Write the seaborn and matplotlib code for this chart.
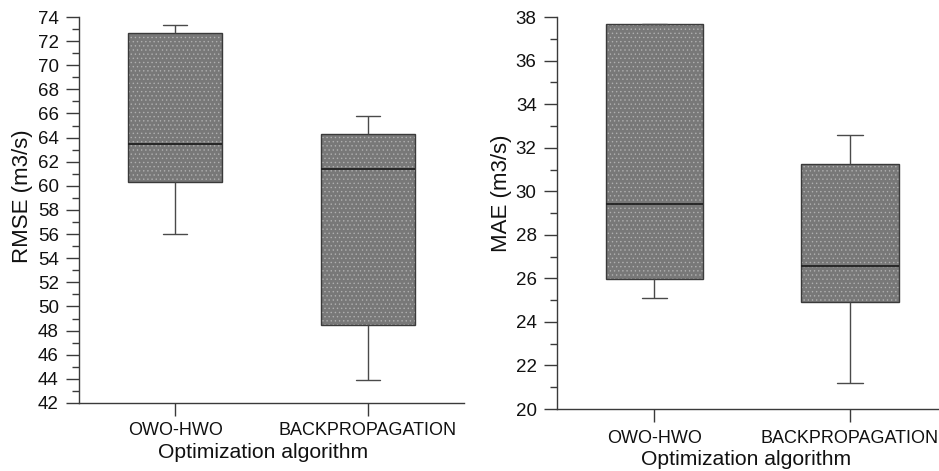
import numpy as np
import pandas as pd
import matplotlib
matplotlib.use("Agg")
import matplotlib.pyplot as plt
import matplotlib.colors as mcolors
from matplotlib.ticker import MultipleLocator
import seaborn as sns

# ---- data (five-number summaries: min, Q1, median, Q3, max)
algorithms = ["OWO-HWO", "BACKPROPAGATION"]
rmse_owo = [56.0, 60.3, 63.5, 72.7, 73.3]
rmse_bp = [43.9, 48.5, 61.4, 64.3, 65.8]
mae_owo = [25.1, 25.95, 29.4, 37.7, 37.7]
mae_bp = [21.2, 24.9, 26.55, 31.25, 32.6]
rmse_ticks = list(range(42, 75, 2))
mae_ticks = list(range(20, 39, 2))

df_rmse = pd.DataFrame({
    "alg": [algorithms[0]] * len(rmse_owo) + [algorithms[1]] * len(rmse_bp),
    "val": rmse_owo + rmse_bp,
})
df_mae = pd.DataFrame({
    "alg": [algorithms[0]] * len(mae_owo) + [algorithms[1]] * len(mae_bp),
    "val": mae_owo + mae_bp,
})

sns.set_style("ticks")
plt.rcParams["font.family"] = ["Liberation Sans", "DejaVu Sans"]
plt.rcParams["hatch.linewidth"] = 0.5
plt.rcParams["text.color"] = "#111111"
plt.rcParams["axes.labelcolor"] = "#111111"
plt.rcParams["xtick.labelcolor"] = "#111111"
plt.rcParams["ytick.labelcolor"] = "#111111"

fig = plt.figure(figsize=(9.39, 4.71), dpi=100)
ax1 = fig.add_axes([0.0841, 0.1444, 0.410, 0.8195])
ax2 = fig.add_axes([0.5929, 0.1316, 0.4164, 0.832])


def draw(ax, df, ticks, ylabel, width, cap, xtl, xpad, xlc, ylc):
    sns.boxplot(data=df, x="alg", y="val", order=algorithms, ax=ax,
                color="#787878", saturation=1, width=width, whis=(0, 100),
                linecolor="#3a3a3a", linewidth=1.0, capwidths=cap,
                showfliers=False,
                whiskerprops=dict(color="#4a4a4a"),
                capprops=dict(color="#4a4a4a"),
                medianprops=dict(color="#202020", linewidth=1.3))
    for p in ax.patches:
        p.set_hatch("....")
        p._hatch_color = mcolors.to_rgba("#b0b0b0")
    ax.set_xlim(-0.5, 1.5)
    ax.set_ylim(ticks[0], ticks[-1])
    ax.set_yticks(ticks)
    ax.yaxis.set_minor_locator(MultipleLocator(1))
    for s in ["top", "right"]:
        ax.spines[s].set_visible(False)
    for s in ["left", "bottom"]:
        ax.spines[s].set_color("#3a3a3a")
        ax.spines[s].set_linewidth(1.0)
    ax.tick_params(axis="y", which="major", length=9.5, width=1.0,
                   color="#3a3a3a", labelsize=13.5, pad=5)
    ax.tick_params(axis="y", which="minor", length=5, width=1.0,
                   color="#3a3a3a")
    ax.tick_params(axis="x", which="major", length=xtl, width=1.0,
                   color="#3a3a3a", labelsize=13, pad=xpad)
    ax.set_xlabel("Optimization algorithm", fontsize=15.2)
    ax.set_ylabel(ylabel, fontsize=16)
    ax.xaxis.set_label_coords(*xlc)
    ax.yaxis.set_label_coords(*ylc)


draw(ax1, df_rmse, rmse_ticks, "RMSE (m3/s)", 0.49, 0.125,
     9, 5, (0.478, -0.104), (-0.119, 0.535))
draw(ax2, df_mae, mae_ticks, "MAE (m3/s)", 0.5, 0.13,
     9.5, 5.5, (0.484, -0.105), (-0.114, 0.55))

fig.savefig("out.png", dpi=100)
